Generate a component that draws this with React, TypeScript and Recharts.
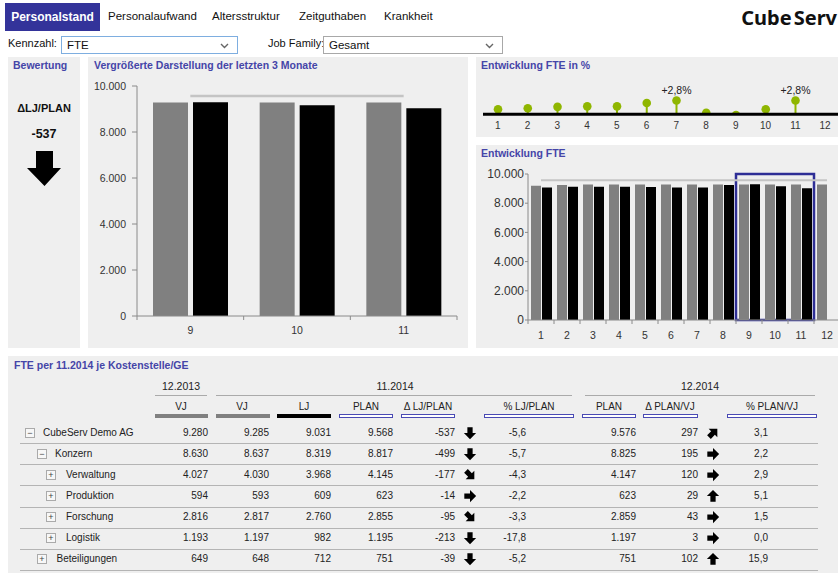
import React from 'react';
import { ComposedChart, Bar, Line, XAxis, YAxis, ReferenceArea, ReferenceLine, LabelList } from 'recharts';

// monthly values 2014 (FTE)
const months = ['1', '2', '3', '4', '5', '6', '7', '8', '9', '10', '11', '12'];
const vjMonthly = [9190, 9240, 9285, 9285, 9285, 9285, 9285, 9285, 9285, 9285, 9285, 9285];
const ljMonthly = [9080, 9130, 9120, 9120, 9110, 9070, 9070, 9250, 9290, 9160, 9031, null];
const planMonthly = [9568, 9568, 9568, 9568, 9568, 9568, 9568, 9568, 9568, 9568, 9568, 9568];
const pctMonthly = [1.0, 1.2, 1.5, 1.6, 1.6, 2.3, 2.8, 0.3, -0.2, 1.0, 2.8, null];
const pctLabels = ['', '', '', '', '', '', '+2,8%', '', '', '', '+2,8%', ''];
const yTicks = [0, 2000, 4000, 6000, 8000, 10000];

// table
const rowNames = ['CubeServ Demo AG', 'Konzern', 'Verwaltung', 'Produktion', 'Forschung', 'Logistik', 'Beteiligungen'];
const rowLevels = [0, 1, 2, 2, 2, 2, 1];
const rowOpen = [true, true, false, false, false, false, false];
const vj2013 = [9280, 8630, 4027, 594, 2816, 1193, 649];
const vj2014 = [9285, 8637, 4030, 593, 2817, 1197, 648];
const lj2014 = [9031, 8319, 3968, 609, 2760, 982, 712];
const plan2014 = [9568, 8817, 4145, 623, 2855, 1195, 751];
const deltaLjPlan = [-537, -499, -177, -14, -95, -213, -39];
const arrowLjPlan = ['down', 'down', 'se', 'right', 'se', 'down', 'down'];
const pctLjPlan = [-5.6, -5.7, -4.3, -2.2, -3.3, -17.8, -5.2];
const planYear = [9576, 8825, 4147, 623, 2859, 1197, 751];
const deltaPlanVj = [297, 195, 120, 29, 43, 3, 102];
const arrowPlanVj = ['ne', 'right', 'right', 'up', 'right', 'right', 'up'];
const pctPlanVj = [3.1, 2.2, 2.9, 5.1, 1.5, 0.0, 15.9];

const tabs = ['Personalstand', 'Personalaufwand', 'Altersstruktur', 'Zeitguthaben', 'Krankheit'];

const monthData = months.map((m, i) => ({
  m,
  vj: vjMonthly[i],
  lj: ljMonthly[i],
  plan: planMonthly[i],
  pct: pctMonthly[i],
  lbl: pctLabels[i],
}));
const last3 = monthData.slice(8, 11);

const de = (v: number, d = 0) => {
  const s = Math.abs(v).toFixed(d);
  const [i, f] = s.split('.');
  const ig = i.replace(/\B(?=(\d{3})+(?!\d))/g, '.');
  return (v < 0 ? '-' : '') + ig + (f ? ',' + f : '');
};

const FONT = "'Liberation Sans', Arial, sans-serif";
const TITLE = '#4545a8';
const PANEL = '#efefef';
const AXIS = '#8a8a8a';
const GREEN = '#8fb600';

const rot: Record<string, number> = { right: 0, down: 90, se: 45, up: -90, ne: -45 };

function Arrow({ dir, size = 14 }: { dir: string; size?: number }) {
  return (
    <svg width={size} height={size} viewBox="0 0 16 16" style={{ display: 'block' }}>
      <path
        d="M1.5,5 H8 V1 L15,8 L8,15 V11 H1.5 Z"
        fill="#000"
        transform={`rotate(${rot[dir]} 8 8)`}
      />
    </svg>
  );
}

// category tick: label at band centre, small tick mark at the band boundaries
const BandTick = (p: any) => {
  const { payload, index, bw, n, gap, fontSize } = p;
  const x = Number(p.x);
  const y = Number(p.y);
  const axisY = y - gap;
  return (
    <g>
      <line x1={x - bw / 2} x2={x - bw / 2} y1={axisY} y2={axisY + 4} stroke={AXIS} />
      {index === n - 1 && <line x1={x + bw / 2} x2={x + bw / 2} y1={axisY} y2={axisY + 4} stroke={AXIS} />}
      <text x={x} y={y} dy="0.71em" textAnchor="middle" fontSize={fontSize} fill="#333">{payload.value}</text>
    </g>
  );
};

const Lolly = (p: any) => {
  const { x, y, width, height, index, payload } = p;
  if (x == null || y == null || payload == null || payload.pct == null) return <g />;
  const cx = Number(x) + Number(width) / 2;
  const a = Number(y);
  const b = a + (Number(height) || 0);
  const pos = payload.pct >= 0;
  const base = pos ? Math.max(a, b) : Math.min(a, b);
  const top = pos ? Math.min(a, b) : Math.max(a, b);
  const id = `lolly-clip-${index}`;
  return (
    <g>
      <defs>
        <clipPath id={id}>
          <rect x={cx - 10} y={base - 40} width={20} height={40} />
        </clipPath>
      </defs>
      <g clipPath={`url(#${id})`}>
        <line x1={cx} x2={cx} y1={base} y2={top} stroke={GREEN} strokeWidth={2} />
        <circle cx={cx} cy={top} r={4.3} fill={GREEN} />
      </g>
    </g>
  );
};

function Title({ text, x, y }: { text: string; x: number; y: number }) {
  return (
    <div style={{ position: 'absolute', left: x, top: y, fontSize: 10.5, fontWeight: 700, color: TITLE, whiteSpace: 'nowrap', lineHeight: '12px' }}>
      {text}
    </div>
  );
}

function Select({ x, w, text, border }: { x: number; w: number; text: string; border: string }) {
  return (
    <div style={{ position: 'absolute', left: x, top: 36, width: w, height: 18, boxSizing: 'border-box', border: `1px solid ${border}`, background: '#fff' }}>
      <div style={{ position: 'absolute', left: 5, top: 2, fontSize: 11.5, color: '#111' }}>{text}</div>
      <svg width={9} height={6} style={{ position: 'absolute', right: 8, top: 6 }}>
        <polyline points="1,1 4.5,4.5 8,1" fill="none" stroke="#666" strokeWidth={1.4} />
      </svg>
    </div>
  );
}

// table layout
const rowY = (i: number) => 432.7 + i * 21.1;
const headerCols = [
  { label: 'VJ', c: 181, x1: 155, x2: 208, kind: 'gray' },
  { label: 'VJ', c: 242, x1: 216, x2: 270, kind: 'gray' },
  { label: 'LJ', c: 304, x1: 277, x2: 331, kind: 'black' },
  { label: 'PLAN', c: 366, x1: 339, x2: 393, kind: 'line' },
  { label: 'Δ LJ/PLAN', c: 428, x1: 401, x2: 455, kind: 'line' },
  { label: '% LJ/PLAN', c: 529, x1: 484, x2: 574, kind: 'line' },
  { label: 'PLAN', c: 609, x1: 582, x2: 636, kind: 'line' },
  { label: 'Δ PLAN/VJ', c: 670, x1: 643, x2: 698, kind: 'line' },
  { label: '% PLAN/VJ', c: 772, x1: 727, x2: 817, kind: 'line' },
];
const groups = [
  { label: '12.2013', c: 181, x1: 155, x2: 207 },
  { label: '11.2014', c: 395, x1: 216, x2: 572 },
  { label: '12.2014', c: 700, x1: 585, x2: 815 },
];
const boxX = [25, 37, 46];
const labelX = [43, 55, 66];

function Num({ right, y, text }: { right: number; y: number; text: string }) {
  return (
    <div style={{ position: 'absolute', right: 838 - right, top: y - 6, fontSize: 10, lineHeight: '12px', color: '#222', whiteSpace: 'nowrap' }}>
      {text}
    </div>
  );
}

function Table() {
  const cells: React.ReactNode[] = [];
  groups.forEach((g, i) => {
    cells.push(
      <div key={`g${i}`} style={{ position: 'absolute', left: g.c - 40, width: 80, top: 380, textAlign: 'center', fontSize: 10.5, color: '#222' }}>{g.label}</div>,
      <div key={`gl${i}`} style={{ position: 'absolute', left: g.x1, width: g.x2 - g.x1, top: 395, height: 1, background: '#aaa' }} />
    );
  });
  headerCols.forEach((h, i) => {
    cells.push(
      <div key={`h${i}`} style={{ position: 'absolute', left: h.c - 45, width: 90, top: 401, textAlign: 'center', fontSize: 10, color: '#222' }}>{h.label}</div>,
      <div
        key={`hb${i}`}
        style={{
          position: 'absolute', left: h.x1, width: h.x2 - h.x1, top: 414, height: 4, boxSizing: 'border-box',
          background: h.kind === 'gray' ? '#808080' : h.kind === 'black' ? '#000' : '#fff',
          border: h.kind === 'line' ? '1px solid #4a4ab4' : 'none',
        }}
      />
    );
  });
  rowNames.forEach((name, i) => {
    const y = rowY(i);
    const lvl = rowLevels[i];
    const bx = i === 6 ? 37 : boxX[lvl];
    const lx = i === 6 ? 56.5 : labelX[lvl];
    cells.push(
      <div key={`b${i}`} style={{ position: 'absolute', left: bx, top: y - 5, width: 10, height: 10, boxSizing: 'border-box', border: '1px solid #aaa', background: '#f7f7f7', fontSize: 9, lineHeight: '8px', textAlign: 'center', color: '#444' }}>
        {rowOpen[i] ? '−' : '+'}
      </div>,
      <div key={`n${i}`} style={{ position: 'absolute', left: lx, top: y - 6, fontSize: 10, lineHeight: '12px', color: '#222', whiteSpace: 'nowrap' }}>{name}</div>,
      <Num key={`c1${i}`} right={208} y={y} text={de(vj2013[i])} />,
      <Num key={`c2${i}`} right={269} y={y} text={de(vj2014[i])} />,
      <Num key={`c3${i}`} right={331} y={y} text={de(lj2014[i])} />,
      <Num key={`c4${i}`} right={393} y={y} text={de(plan2014[i])} />,
      <Num key={`c5${i}`} right={455} y={y} text={de(deltaLjPlan[i])} />,
      <div key={`a1${i}`} style={{ position: 'absolute', left: 463, top: y - 7 }}><Arrow dir={arrowLjPlan[i]} /></div>,
      <Num key={`c6${i}`} right={526} y={y} text={de(pctLjPlan[i], 1)} />,
      <Num key={`c7${i}`} right={636} y={y} text={de(planYear[i])} />,
      <Num key={`c8${i}`} right={698} y={y} text={de(deltaPlanVj[i])} />,
      <div key={`a2${i}`} style={{ position: 'absolute', left: 706, top: y - 7 }}><Arrow dir={arrowPlanVj[i]} /></div>,
      <Num key={`c9${i}`} right={768} y={y} text={de(pctPlanVj[i], 1)} />,
      <div key={`s${i}`} style={{ position: 'absolute', left: 20, width: 798, top: y + 10.5, height: 1, background: '#b4b4b4' }} />
    );
  });
  return <>{cells}</>;
}

export default function App() {
  return (
    <div style={{ position: 'absolute', left: 0, top: 0, width: 838, height: 573, overflow: 'hidden', background: '#fff', fontFamily: FONT }}>
      {/* tabs */}
      <div style={{ position: 'absolute', left: 5, top: 3, width: 95, height: 28, background: '#33339a', color: '#fff', fontWeight: 700, fontSize: 12, lineHeight: '28px', textAlign: 'center' }}>
        {tabs[0]}
      </div>
      {tabs.slice(1).map((t, i) => (
        <div key={t} style={{ position: 'absolute', left: [108, 212, 299, 384][i], top: 10, fontSize: 11.5, color: '#111' }}>{t}</div>
      ))}
      <div style={{ position: 'absolute', right: 1, top: 4, fontFamily: "'Noto Sans', 'Open Sans', sans-serif", fontWeight: 700, fontSize: 20, color: '#111', whiteSpace: 'nowrap' }}>
        Cube<span style={{ marginLeft: 2 }}>Serv</span>
      </div>

      {/* filters */}
      <div style={{ position: 'absolute', left: 8, top: 37, fontSize: 11, color: '#111' }}>Kennzahl:</div>
      <Select x={61} w={177} text="FTE" border="#7eaee0" />
      <div style={{ position: 'absolute', left: 268, top: 37, fontSize: 11, color: '#111' }}>Job Family:</div>
      <Select x={323} w={180} text="Gesamt" border="#a8a8a8" />

      {/* panels */}
      <div style={{ position: 'absolute', left: 8, top: 57, width: 72, height: 291, background: PANEL }} />
      <div style={{ position: 'absolute', left: 88, top: 57, width: 380, height: 291, background: PANEL }} />
      <div style={{ position: 'absolute', left: 476, top: 57, width: 362, height: 80, background: PANEL }} />
      <div style={{ position: 'absolute', left: 476, top: 145, width: 362, height: 203, background: PANEL }} />
      <div style={{ position: 'absolute', left: 8, top: 356, width: 830, height: 217, background: PANEL }} />

      {/* Bewertung */}
      <Title text="Bewertung" x={13} y={59} />
      <div style={{ position: 'absolute', left: 8, width: 72, top: 102, textAlign: 'center', fontSize: 11, fontWeight: 700, color: '#111' }}>ΔLJ/PLAN</div>
      <div style={{ position: 'absolute', left: 8, width: 72, top: 127, textAlign: 'center', fontSize: 12.5, fontWeight: 700, color: '#111' }}>{de(deltaLjPlan[0])}</div>
      <div style={{ position: 'absolute', left: 26, top: 151 }}>
        <svg width={36} height={36} viewBox="0 0 36 36">
          <path d="M10,0 H27 V17 H35 L18.5,35 L1,17 H10 Z" fill="#000" />
        </svg>
      </div>

      {/* last 3 months */}
      <Title text="Vergrößerte Darstellung der letzten 3 Monate" x={94} y={59} />
      <div style={{ position: 'absolute', left: 88, top: 57 }}>
        <ComposedChart width={380} height={291} data={last3} margin={{ top: 29, right: 11, bottom: 2, left: 0 }} barCategoryGap={16} barGap={5}>
          <XAxis dataKey="m" stroke={AXIS} axisLine={{ stroke: AXIS }} tickLine={false} tickSize={0} tickMargin={11} height={30} interval={0}
            tick={(p: any) => <BandTick {...p} bw={320 / 3} n={3} gap={11} fontSize={10.5} />} />
          <YAxis domain={[0, 10000]} ticks={yTicks} tickFormatter={(v: number) => de(v)} width={49} tickSize={5} tickMargin={6}
            stroke={AXIS} axisLine={{ stroke: AXIS }} tickLine={{ stroke: AXIS }} tick={{ fontSize: 10.5, fill: '#333' }} />
          <Bar dataKey="vj" fill="#808080" isAnimationActive={false} />
          <Bar dataKey="lj" fill="#000000" isAnimationActive={false} />
          <Line dataKey="plan" stroke="#c4c4c4" strokeWidth={2.5} dot={false} isAnimationActive={false} />
        </ComposedChart>
      </div>

      {/* Entwicklung FTE in % */}
      <Title text="Entwicklung FTE in %" x={481} y={59} />
      <div style={{ position: 'absolute', left: 476, top: 57 }}>
        <ComposedChart width={364} height={80} data={monthData} margin={{ top: 28, right: 0, bottom: 0, left: 7 }}>
          <XAxis dataKey="m" axisLine={false} tickLine={false} tickSize={0} tickMargin={3} height={18} interval={0}
            tick={{ fontSize: 10, fill: '#333' }} />
          <YAxis hide domain={[-1, 6]} />
          <ReferenceLine y={0} stroke="#000" strokeWidth={3} />
          <Bar dataKey="pct" barSize={4} shape={(p: any) => <Lolly {...p} />} isAnimationActive={false}>
            <LabelList dataKey="lbl" position="top" offset={7} style={{ fontSize: 10.5, fill: '#222' }} />
          </Bar>
        </ComposedChart>
      </div>

      {/* Entwicklung FTE */}
      <Title text="Entwicklung FTE" x={481} y={147} />
      <div style={{ position: 'absolute', left: 476, top: 145 }}>
        <ComposedChart width={364} height={203} data={monthData} margin={{ top: 29, right: 0, bottom: 0, left: 0 }} barCategoryGap={3} barGap={1}>
          <XAxis dataKey="m" stroke={AXIS} axisLine={{ stroke: AXIS }} tickLine={false} tickSize={0} tickMargin={12} height={28} interval={0}
            tick={(p: any) => <BandTick {...p} bw={26} n={12} gap={12} fontSize={10.5} />} />
          <YAxis domain={[0, 10000]} ticks={yTicks} tickFormatter={(v: number) => de(v)} width={52} tickSize={3} tickMargin={1}
            stroke={AXIS} axisLine={{ stroke: AXIS }} tickLine={{ stroke: AXIS }} tick={{ fontSize: 12, fill: '#333' }} />
          <Bar dataKey="vj" fill="#808080" isAnimationActive={false} />
          <Bar dataKey="lj" fill="#000000" isAnimationActive={false} />
          <Line dataKey="plan" stroke="#c4c4c4" strokeWidth={2} dot={false} isAnimationActive={false} />
          <ReferenceArea x1="9" x2="11" y1={0} y2={10000} fill="none" fillOpacity={0} stroke="#2e2e96" strokeWidth={2.5} ifOverflow="visible" />
        </ComposedChart>
      </div>

      {/* table */}
      <Title text="FTE per 11.2014 je Kostenstelle/GE" x={14} y={359} />
      <Table />
    </div>
  );
}
